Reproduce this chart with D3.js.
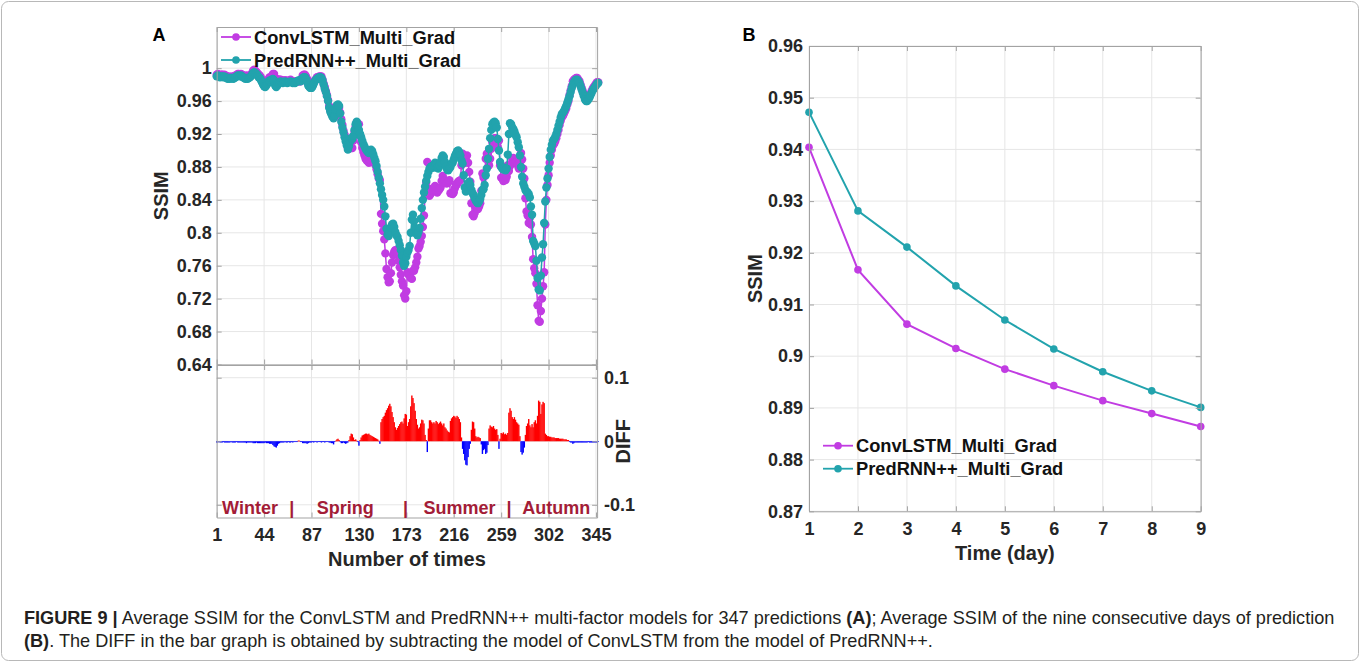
<!DOCTYPE html>
<html><head><meta charset="utf-8">
<script src="https://cdn.jsdelivr.net/npm/d3@7"></script>
<style>body{margin:0;background:#fff}svg{display:block}</style>
</head><body>
<svg id="c" width="1360" height="662"></svg>
<script>
// ---------------- DATA ----------------
const seriesNames = ["ConvLSTM_Multi_Grad", "PredRNN++_Multi_Grad"];
const xTicksA = [1, 44, 87, 130, 173, 216, 259, 302, 345];
const yTicksA = [0.64, 0.68, 0.72, 0.76, 0.8, 0.84, 0.88, 0.92, 0.96, 1];
const diffTicks = [-0.1, 0, 0.1];
const seasons = ["Winter", "Spring", "Summer", "Autumn"];
const seasonCenters = [31.2, 117.6, 221.2, 308.9];
const seasonSeparators = [69, 172.2, 266.1];

const predA = [
.990,.991,.990,.989,.990,.990,.989,.990,.989,.988,
.987,.988,.987,.988,.988,.987,.988,.989,.990,.991,
.991,.990,.991,.990,.989,.988,.987,.988,.987,.988,
.989,.990,.992,.994,.995,.994,.993,.991,.989,.988,
.986,.983,.980,.978,.977,.979,.981,.984,.985,.984,
.986,.987,.985,.979,.977,.979,.982,.983,.984,.983,
.982,.983,.984,.983,.982,.983,.983,.984,.983,.982,
.983,.982,.983,.984,.985,.985,.984,.986,.988,.989,
.989,.987,.983,.979,.977,.976,.976,.978,.981,.984,
.986,.987,.988,.989,.989,.988,.985,.980,.975,.971,
.966,.960,.952,.947,.944,.941,.939,.942,.950,.955,
.956,.954,.945,.935,.928,.922,.916,.911,.906,.901,
.905,.911,.915,.914,.918,.925,.932,.935,.931,.925,
.920,.916,.912,.908,.905,.902,.900,.898,.897,.899,
.901,.899,.895,.891,.887,.881,.874,.867,.860,.853,
.846,.840,.832,.820,.805,.798,.796,.800,.806,.810,
.811,.807,.801,.797,.795,.790,.785,.779,.772,.764,
.760,.763,.771,.776,.779,.784,.800,.816,.822,.814,
.806,.799,.797,.801,.806,.817,.830,.840,.849,.856,
.863,.869,.874,.878,.880,.881,.879,.882,.885,.883,
.879,.878,.882,.886,.891,.894,.892,.886,.880,.877,
.876,.878,.880,.884,.885,.889,.893,.896,.899,.900,
.898,.894,.888,.884,.870,.855,.850,.856,.860,.862,
.858,.852,.848,.846,.842,.839,.837,.836,.838,.841,
.846,.852,.853,.858,.870,.878,.890,.902,.915,.925,
.932,.934,.935,.933,.928,.914,.900,.886,.880,.878,
.877,.879,.876,.878,.895,.920,.933,.932,.928,.926,
.923,.919,.916,.910,.904,.894,.880,.868,.860,.856,
.852,.850,.849,.847,.843,.832,.822,.790,.787,.784,
.766,.745,.731,.730,.748,.770,.786,.812,.838,.855,
.866,.878,.892,.901,.907,.912,.914,.916,.920,.925,
.930,.935,.940,.944,.946,.948,.951,.954,.958,.962,
.966,.971,.976,.980,.983,.985,.986,.986,.984,.982,
.978,.974,.970,.966,.962,.960,.960,.962,.964,.967,
.970,.973,.975,.977,.979,.981,.982];

const convA = [
.992,.993,.991,.991,.992,.992,.990,.992,.991,.990,
.989,.990,.989,.989,.990,.989,.990,.991,.991,.993,
.993,.992,.993,.992,.991,.990,.989,.991,.989,.990,
.991,.992,.994,.997,.998,.997,.995,.994,.992,.991,
.989,.986,.983,.981,.979,.982,.984,.987,.989,.988,
.990,.993,.993,.988,.987,.986,.986,.986,.986,.985,
.984,.985,.985,.985,.984,.984,.985,.986,.984,.984,
.984,.983,.984,.984,.984,.984,.984,.987,.991,.992,
.992,.990,.987,.982,.979,.978,.978,.979,.983,.985,
.987,.989,.989,.990,.990,.990,.986,.981,.977,.972,
.967,.961,.954,.949,.947,.944,.944,.943,.949,.952,
.952,.952,.946,.938,.931,.924,.919,.915,.909,.903,
.903,.903,.903,.903,.912,.923,.929,.934,.931,.932,
.918,.910,.903,.898,.894,.890,.888,.887,.885,.889,
.892,.891,.888,.885,.882,.877,.871,.866,.864,.823,
.811,.802,.792,.775,.756,.746,.740,.741,.751,.764,
.773,.777,.779,.779,.774,.766,.758,.749,.741,.736,
.724,.720,.729,.752,.749,.749,.745,.744,.754,.754,
.758,.764,.771,.781,.784,.789,.796,.807,.821,.846,
.861,.886,.854,.845,.847,.851,.851,.852,.857,.851,
.849,.851,.853,.855,.863,.869,.864,.864,.860,.860,
.861,.864,.848,.848,.847,.849,.854,.859,.859,.862,
.863,.864,.882,.896,.890,.885,.887,.894,.885,.874,
.862,.836,.822,.820,.824,.831,.831,.829,.832,.836,
.851,.872,.867,.870,.890,.896,.896,.882,.890,.902,
.910,.910,.915,.915,.909,.904,.912,.882,.867,.866,
.863,.868,.864,.868,.882,.875,.881,.884,.890,.891,
.885,.885,.886,.882,.878,.886,.897,.889,.878,.866,
.842,.826,.821,.812,.818,.810,.795,.768,.757,.751,
.738,.712,.693,.692,.705,.720,.735,.752,.810,.840,
.858,.870,.885,.894,.901,.906,.908,.911,.915,.920,
.925,.931,.936,.940,.942,.945,.948,.951,.956,.960,
.967,.973,.978,.984,.986,.987,.988,.988,.986,.984,
.980,.976,.972,.968,.964,.962,.962,.963,.966,.969,
.972,.975,.977,.979,.981,.983,.983];

const diffA = [
-.002,-.002,-.001,-.002,-.002,-.002,-.001,-.002,-.002,-.002,
-.002,-.002,-.002,-.001,-.002,-.002,-.002,-.002,-.001,-.002,
-.002,-.002,-.002,-.002,-.002,-.002,-.002,-.003,-.002,-.002,
-.002,-.002,-.002,-.003,-.003,-.003,-.002,-.003,-.003,-.003,
-.003,-.003,-.003,-.003,-.002,-.003,-.003,-.003,-.004,-.004,
-.004,-.006,-.008,-.009,-.010,-.007,-.004,-.003,-.002,-.002,
-.002,-.002,-.001,-.002,-.002,-.001,-.002,-.002,-.001,-.002,
-.001,-.001,-.001,.000,.001,.001,.000,-.001,-.003,-.003,
-.003,-.003,-.004,-.003,-.002,-.002,-.002,-.001,-.002,-.001,
-.001,-.002,-.001,-.001,-.001,-.002,-.001,-.001,-.002,-.001,
-.001,-.001,-.002,-.002,-.003,-.003,-.005,-.001,.001,.003,
.004,.002,-.001,-.003,-.003,-.002,-.003,-.004,-.003,-.002,
.002,.008,.012,.011,.006,.002,.003,.001,.000,-.007,
.002,.006,.009,.010,.011,.012,.012,.011,.012,.010,
.009,.008,.007,.006,.005,.004,.003,.001,-.004,.030,
.035,.038,.040,.045,.049,.052,.056,.059,.055,.046,
.038,.030,.022,.018,.021,.024,.027,.030,.031,.028,
.036,.043,.042,.024,.030,.035,.055,.072,.068,.060,
.048,.035,.026,.020,.022,.028,.034,.033,.028,.010,
.002,-.017,.020,.033,.033,.030,.028,.030,.028,.032,
.030,.027,.029,.031,.028,.025,.028,.022,.020,.017,
.015,.014,.032,.036,.038,.040,.039,.037,.040,.038,
.035,.030,.006,-.012,-.020,-.030,-.037,-.038,-.025,-.012,
-.004,.018,.031,.030,.020,.008,.006,.007,.006,.005,
-.005,-.020,-.014,-.012,-.020,-.018,-.006,.020,.025,.023,
.022,.024,.020,.018,.019,.010,-.012,.004,.013,.012,
.014,.011,.012,.010,.013,.045,.052,.048,.038,.035,
.038,.034,.030,.028,.026,.008,-.017,-.021,-.018,-.010,
.010,.024,.028,.035,.025,.022,.027,.022,.030,.033,
.028,.040,.064,.062,.043,.058,.062,.060,.012,.010,
.008,.008,.007,.007,.006,.006,.006,.005,.005,.005,
.005,.004,.004,.004,.004,.003,.003,.003,.002,.002,
-.001,-.002,-.002,-.004,-.003,-.002,-.002,-.002,-.002,-.002,
-.002,-.002,-.002,-.002,-.002,-.002,-.002,-.001,-.002,-.002,
-.002,-.002,-.002,-.002,-.002,-.002,-.001];

const days = [1, 2, 3, 4, 5, 6, 7, 8, 9];
const convB = [0.9404, 0.9167, 0.9062, 0.9015, 0.8975, 0.8943, 0.8914, 0.8889, 0.8864];
const predB = [0.9472, 0.9281, 0.9211, 0.9136, 0.9070, 0.9014, 0.8970, 0.8933, 0.8901];
const yTicksB = [0.87, 0.88, 0.89, 0.9, 0.91, 0.92, 0.93, 0.94, 0.95, 0.96];

// ---------------- STYLE ----------------
const FONT = '"Liberation Sans", Arial, Helvetica, sans-serif';
const C_CONV = "#c13ce2", C_PRED = "#22a3ad";
const FRAME = "#a3a3a3", GRID = "#e6e6e6", TXT = "#262626";
const SEASON = "#a31c37";
const R_A = 4.2;

const svg = d3.select("#c").attr("font-family", FONT);

svg.append("rect").attr("x", 1.5).attr("y", 1.5).attr("width", 1357).attr("height", 659)
  .attr("rx", 7).attr("fill", "none").attr("stroke", "#b8b8b8");

function styleAxis(g, labels) {
  g.attr("font-family", null).attr("font-size", null);
  g.select(".domain").attr("stroke", FRAME);
  g.selectAll(".tick line").attr("stroke", FRAME);
  g.selectAll("text").attr("font-size", 18).attr("font-weight", "bold")
    .attr("fill", TXT).attr("font-family", FONT);
  if (!labels) g.selectAll("text").remove();
}
const fmt = d => String(+d.toFixed(3));

// ---------------- PANEL A ----------------
const xA = d3.scaleLinear().domain([1, 346]).range([216.7, 597.1]);
const yA = d3.scaleLinear().domain([0.64, 1.05]).range([364.5, 27]);
const yD = d3.scaleLinear().domain([-0.12, 0.12]).range([517.5, 365]);
const [ax0, ax1] = xA.range();

// grids
const gGrid = svg.append("g").attr("stroke", GRID).attr("stroke-width", 1);
xTicksA.forEach(t => {
  gGrid.append("line").attr("x1", xA(t)).attr("x2", xA(t)).attr("y1", yA.range()[1]).attr("y2", yA.range()[0]);
  gGrid.append("line").attr("x1", xA(t)).attr("x2", xA(t)).attr("y1", yD.range()[1]).attr("y2", yD.range()[0]);
});
yTicksA.forEach(t => gGrid.append("line").attr("x1", ax0).attr("x2", ax1).attr("y1", yA(t)).attr("y2", yA(t)));
diffTicks.forEach(t => gGrid.append("line").attr("x1", ax0).attr("x2", ax1).attr("y1", yD(t)).attr("y2", yD(t)));

// series
function drawSeries(data, color) {
  const line = d3.line().x((d, i) => xA(i + 1)).y(d => yA(d));
  svg.append("path").datum(data).attr("d", line).attr("fill", "none")
    .attr("stroke", color).attr("stroke-width", 1.5);
  svg.append("g").selectAll("circle").data(data).join("circle")
    .attr("cx", (d, i) => xA(i + 1)).attr("cy", d => yA(d)).attr("r", R_A).attr("fill", color);
}
drawSeries(convA, C_CONV);
drawSeries(predA, C_PRED);

// diff bars
const bw = xA(2) - xA(1);
svg.append("g").selectAll("rect").data(diffA).join("rect")
  .attr("x", (d, i) => xA(i + 1) - bw / 2 - 0.15)
  .attr("width", bw + 0.3)
  .attr("y", d => Math.min(yD(d), yD(0)))
  .attr("height", d => Math.max(0.8, Math.abs(yD(d) - yD(0))))
  .attr("fill", d => d > 0 ? "#ff0000" : "#0000ff");

// axes top panel
svg.append("g").attr("transform", `translate(${ax0},0)`)
  .call(d3.axisLeft(yA).tickValues(yTicksA).tickSizeInner(-5).tickSizeOuter(0).tickPadding(5).tickFormat(fmt))
  .call(g => styleAxis(g, true));
svg.append("g").attr("transform", `translate(${ax1},0)`)
  .call(d3.axisRight(yA).tickValues(yTicksA).tickSizeInner(-5).tickSizeOuter(0))
  .call(g => styleAxis(g, false));
svg.append("g").attr("transform", `translate(0,${yA.range()[1]})`)
  .call(d3.axisTop(xA).tickValues(xTicksA).tickSizeInner(-5).tickSizeOuter(0))
  .call(g => styleAxis(g, false));
svg.append("g").attr("transform", `translate(0,${yA.range()[0]})`)
  .call(d3.axisBottom(xA).tickValues(xTicksA).tickSizeInner(-5).tickSizeOuter(0))
  .call(g => styleAxis(g, false));

// axes bottom panel
svg.append("g").attr("transform", `translate(0,${yD.range()[1]})`)
  .call(d3.axisTop(xA).tickValues(xTicksA).tickSizeInner(-5).tickSizeOuter(0))
  .call(g => styleAxis(g, false));
svg.append("g").attr("transform", `translate(0,${yD.range()[0]})`)
  .call(d3.axisBottom(xA).tickValues(xTicksA).tickSizeInner(-5).tickSizeOuter(0).tickPadding(11))
  .call(g => styleAxis(g, true));
svg.append("g").attr("transform", `translate(${ax0},0)`)
  .call(d3.axisLeft(yD).tickValues(diffTicks).tickSizeInner(-5).tickSizeOuter(0))
  .call(g => styleAxis(g, false));
svg.append("g").attr("transform", `translate(${ax1},0)`)
  .call(d3.axisRight(yD).tickValues(diffTicks).tickSizeInner(-5).tickSizeOuter(0).tickPadding(7).tickFormat(fmt))
  .call(g => styleAxis(g, true));

// season labels
seasons.forEach((s, i) => svg.append("text").attr("x", xA(seasonCenters[i])).attr("y", 514)
  .attr("text-anchor", "middle").attr("font-size", 18).attr("font-weight", "bold").attr("fill", SEASON).text(s));
seasonSeparators.forEach(s => svg.append("text").attr("x", xA(s)).attr("y", 514)
  .attr("text-anchor", "middle").attr("font-size", 18).attr("font-weight", "bold").attr("fill", SEASON).text("|"));

// axis titles A
svg.append("text").attr("x", (ax0 + ax1) / 2).attr("y", 566).attr("text-anchor", "middle")
  .attr("font-size", 20).attr("font-weight", "bold").attr("fill", TXT).text("Number of times");
svg.append("text").attr("transform", `translate(167.5,${(yA.range()[0] + yA.range()[1]) / 2}) rotate(-90)`)
  .attr("text-anchor", "middle").attr("font-size", 20).attr("font-weight", "bold").attr("fill", TXT).text("SSIM");
svg.append("text").attr("transform", `translate(630,${yD(0)}) rotate(-90)`)
  .attr("text-anchor", "middle").attr("font-size", 20).attr("font-weight", "bold").attr("fill", TXT).text("DIFF");
svg.append("text").attr("x", 152.5).attr("y", 40.7).attr("font-size", 18).attr("font-weight", "bold")
  .attr("fill", "#000").text("A");

// legends
function legend(x, y, names) {
  const colors = [C_CONV, C_PRED];
  names.forEach((n, i) => {
    const yy = y + i * 23;
    svg.append("line").attr("x1", x).attr("x2", x + 30).attr("y1", yy).attr("y2", yy)
      .attr("stroke", colors[i]).attr("stroke-width", 1.8);
    svg.append("circle").attr("cx", x + 15).attr("cy", yy).attr("r", 3.8).attr("fill", colors[i]);
    svg.append("text").attr("x", x + 33).attr("y", yy + 6.5).attr("font-size", 18.3)
      .attr("font-weight", "bold").attr("fill", "#111").text(n);
  });
}
legend(221, 37, seriesNames);

// ---------------- PANEL B ----------------
const xB = d3.scaleLinear().domain([1, 9]).range([809, 1200.7]);
const yB = d3.scaleLinear().domain([0.87, 0.96]).range([511.3, 46]);
const [bx0, bx1] = xB.range();
const gGridB = svg.append("g").attr("stroke", GRID).attr("stroke-width", 1);
days.forEach(t => gGridB.append("line").attr("x1", xB(t)).attr("x2", xB(t)).attr("y1", yB.range()[1]).attr("y2", yB.range()[0]));
yTicksB.forEach(t => gGridB.append("line").attr("x1", bx0).attr("x2", bx1).attr("y1", yB(t)).attr("y2", yB(t)));

[[convB, C_CONV], [predB, C_PRED]].forEach(([data, color]) => {
  const line = d3.line().x((d, i) => xB(days[i])).y(d => yB(d));
  svg.append("path").datum(data).attr("d", line).attr("fill", "none").attr("stroke", color).attr("stroke-width", 2);
  svg.append("g").selectAll("circle").data(data).join("circle")
    .attr("cx", (d, i) => xB(days[i])).attr("cy", d => yB(d)).attr("r", 3.8).attr("fill", color);
});

svg.append("g").attr("transform", `translate(${bx0},0)`)
  .call(d3.axisLeft(yB).tickValues(yTicksB).tickSizeInner(-5).tickSizeOuter(0).tickPadding(6).tickFormat(fmt))
  .call(g => styleAxis(g, true));
svg.append("g").attr("transform", `translate(${bx1},0)`)
  .call(d3.axisRight(yB).tickValues(yTicksB).tickSizeInner(-5).tickSizeOuter(0))
  .call(g => styleAxis(g, false));
svg.append("g").attr("transform", `translate(0,${yB.range()[0]})`)
  .call(d3.axisBottom(xB).tickValues(days).tickSizeInner(-5).tickSizeOuter(0).tickPadding(11).tickFormat(fmt))
  .call(g => styleAxis(g, true));
svg.append("g").attr("transform", `translate(0,${yB.range()[1]})`)
  .call(d3.axisTop(xB).tickValues(days).tickSizeInner(-5).tickSizeOuter(0))
  .call(g => styleAxis(g, false));

svg.append("text").attr("x", (bx0 + bx1) / 2).attr("y", 560).attr("text-anchor", "middle")
  .attr("font-size", 20).attr("font-weight", "bold").attr("fill", TXT).text("Time (day)");
svg.append("text").attr("transform", `translate(762,${(yB.range()[0] + yB.range()[1]) / 2}) rotate(-90)`)
  .attr("text-anchor", "middle").attr("font-size", 20).attr("font-weight", "bold").attr("fill", TXT).text("SSIM");
svg.append("text").attr("x", 742.5).attr("y", 40.7).attr("font-size", 18).attr("font-weight", "bold")
  .attr("fill", "#000").text("B");

legend(823, 445.7, seriesNames);

// ---------------- CAPTION ----------------
function caption(parts) {
  const t = svg.append("text").attr("y", 0).attr("font-size", 18).attr("fill", "#231f20");
  parts.forEach(([s, b]) => t.append("tspan").attr("font-weight", b ? "bold" : null).text(s));
  return t;
}
const cap1 = caption([["FIGURE 9 |", 1], [" Average SSIM for the ConvLSTM and PredRNN++ multi-factor models for 347 predictions ", 0], ["(A)", 1], ["; Average SSIM of the nine consecutive days of prediction", 0]]);
const cap2 = caption([["(B)", 1], [". The DIFF in the bar graph is obtained by subtracting the model of ConvLSTM from the model of PredRNN++.", 0]]);
const w1 = cap1.node().getComputedTextLength();
const sx = 1312 / w1;
cap1.attr("transform", `translate(24,624) scale(${sx},1)`);
cap2.attr("transform", `translate(24,647) scale(${sx},1)`);
</script>
</body></html>
